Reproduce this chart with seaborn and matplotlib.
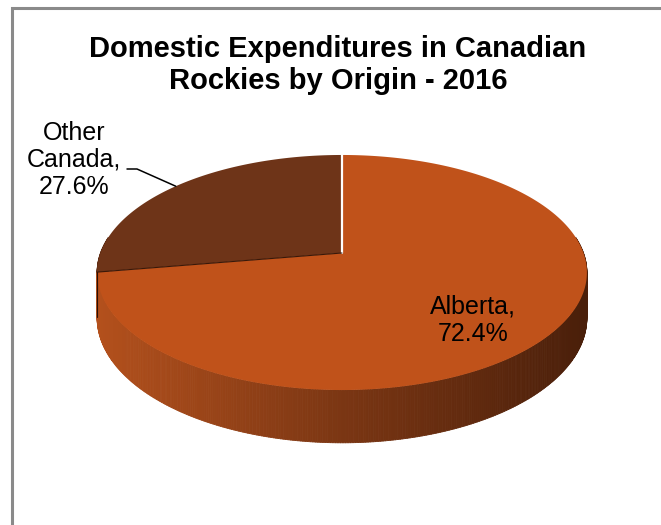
import numpy as np
import matplotlib
matplotlib.use("Agg")
import matplotlib.pyplot as plt
from matplotlib.collections import PolyCollection
from matplotlib.colors import LinearSegmentedColormap, to_rgba
import seaborn as sns

sns.set_style("white")
plt.rcParams["font.family"] = ["Liberation Sans", "DejaVu Sans"]
plt.rcParams["text.color"] = "black"

# ---- data ----
title = "Domestic Expenditures in Canadian\nRockies by Origin - 2016"
categories = ["Other Canada", "Alberta"]
shares = [27.6, 72.4]
label_texts = ["Other\nCanada,\n27.6%", "Alberta,\n72.4%"]
top_colors = ["#6E3418", "#C0521A"]

# ---- geometry (styling) ----
W, H = 661, 525
cx, cy = 342, 253          # pie centre (pixel-like units)
A, B = 241.5, 114.3        # horizontal / vertical radii
e = 0.166                  # perspective factor
depth = 44                 # wall height

def proj(t_deg, r=1.0, z=0.0):
    t = np.radians(t_deg)
    u = r * np.cos(t)
    v = r * np.sin(t)
    s = 1.0 / (1.0 + e * v)
    return cx + A * u * s, cy - B * v * s + z * depth * s

fig = plt.figure(figsize=(W / 100, H / 100), dpi=100)
ax = fig.add_axes([0, 0, 1, 1])
ax.set_xlim(0, W)
ax.set_ylim(H, 0)
ax.axis("off")

# wedge angle ranges
fr = np.array(shares) / sum(shares)
starts = 90 + 360 * np.concatenate([[0], np.cumsum(fr)[:-1]])
ends = starts + 360 * fr

# ---- side walls ----
wall_cmap = LinearSegmentedColormap.from_list("wall", ["#B3501C", "#7B3613", "#4A1F0A"])
dark_wall = "#5A2911"
polys, cols = [], []
for i, (a0, a1) in enumerate(zip(starts, ends)):
    lo = max(a0, 172)
    hi = min(a1, 368)
    if hi <= lo:
        continue
    ts = np.linspace(lo, hi, int((hi - lo) * 2) + 2)
    for t1, t2 in zip(ts[:-1], ts[1:]):
        x1, y1 = proj(t1)
        x2, y2 = proj(t2)
        x3, y3 = proj(t2, z=1)
        x4, y4 = proj(t1, z=1)
        polys.append([(x1, y1), (x2, y2), (x3, y3), (x4, y4)])
        if categories[i] == "Alberta":
            xm = (x1 + x2) / 2
            c = wall_cmap(np.clip((xm - (cx - A * 1.01)) / (2 * A * 1.01), 0, 1))
        else:
            c = to_rgba(dark_wall)
        cols.append(c)
pc = PolyCollection(polys, facecolors=cols, edgecolors=cols, linewidths=0.6, zorder=1)
ax.add_collection(pc)

# ---- top faces ----
for i, (a0, a1) in enumerate(zip(starts, ends)):
    ts = np.linspace(a0, a1, 400)
    xs, ys = proj(ts)
    ax.fill(np.concatenate([[cx], xs]), np.concatenate([[cy], ys]),
            color=top_colors[i], lw=0, zorder=2)

# slice separators
xb, yb = proj(np.array([90.0, 90.0]), r=np.array([0.0, 1.0]))
ax.plot(xb, yb, color="white", lw=1.6, zorder=3)
xb, yb = proj(np.array([ends[0], ends[0]]), r=np.array([0.0, 1.0]))
ax.plot(xb, yb, color="#3A1808", lw=0.8, zorder=3)
xe, ye = proj(np.array([ends[0], ends[0]]), z=np.array([0.0, 1.0]))
ax.plot(xe, ye, color="#2A1005", lw=0.8, zorder=3)

# ---- labels ----
mid = (starts + ends) / 2
# Other Canada: outside label with leader line
mx, my = proj(mid[0])
ax.plot([mx, 137, 127], [my, 169, 169], color="black", lw=1.1, zorder=4)
ax.text(74, 160, label_texts[0], ha="center", va="center", fontsize=18,
        linespacing=1.18, color="black", zorder=5)
# Alberta: inside label
lx, ly = proj(mid[1], r=0.66)
ax.text(lx, ly + 15, label_texts[1], ha="center", va="center", fontsize=18,
        linespacing=1.2, color="black", zorder=5)

# ---- title ----
ax.text(338, 65, title, ha="center", va="center", fontsize=21,
        fontweight="bold", linespacing=1.15, color="black", zorder=5)

# ---- chart frame (left and top edges visible) ----
ax.plot([12, 12, W + 5], [H + 5, 8, 8], color="#8A8A8A", lw=2.2,
        solid_joinstyle="miter", zorder=6, clip_on=False)

fig.savefig("out.png", dpi=100)
